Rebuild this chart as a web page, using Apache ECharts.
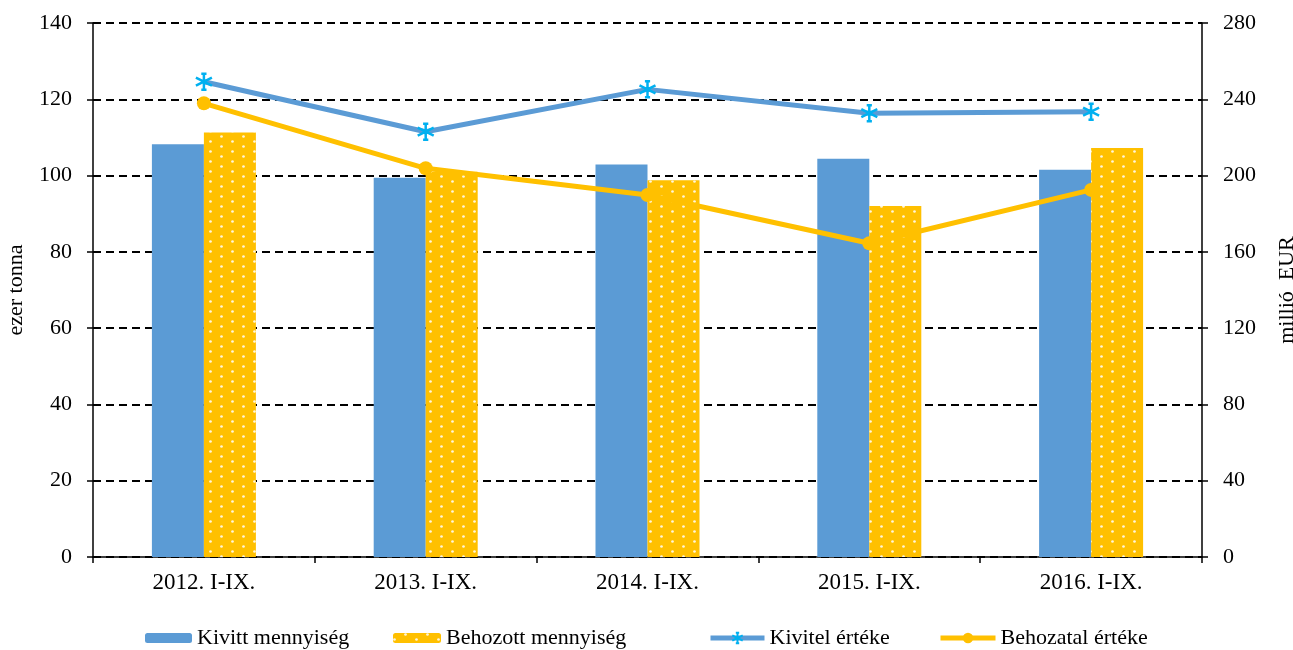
<!DOCTYPE html>
<html>
<head>
<meta charset="utf-8">
<script src="https://cdn.jsdelivr.net/npm/echarts@6/dist/echarts.min.js"></script>
<style>
html,body{margin:0;padding:0;background:#fff;}
#chart{width:1293px;height:650px;}
</style>
</head>
<body>
<div id="chart"></div>
<script>
var categories = ['2012. I-IX.', '2013. I-IX.', '2014. I-IX.', '2015. I-IX.', '2016. I-IX.'];
var kivittMennyiseg = [108.2, 99.4, 102.9, 104.4, 101.5];
var behozottMennyiseg = [111.3, 101.0, 98.8, 92.0, 107.2];
var kivitelErteke = [249.2, 223.0, 245.2, 232.7, 233.5];
var behozatalErteke = [237.9, 203.8, 189.8, 164.5, 192.5];
var leftTicks = [0, 20, 40, 60, 80, 100, 120, 140];
var rightTicks = [0, 40, 80, 120, 160, 200, 240, 280];
var seriesNames = ['Kivitt mennyiség', 'Behozott mennyiség', 'Kivitel értéke', 'Behozatal értéke'];

var FONT = '"Liberation Serif", "Times New Roman", serif';
var chart = echarts.init(document.getElementById('chart'), null, {renderer: 'canvas'});
var starPath = 'path://M5,0L5,10M3.6,0L6.4,0M3.6,10L6.4,10M0.7,2.5L9.3,7.5M0.7,7.5L9.3,2.5';

var legendLefts = [145, 393, 708, 938];
var legendWidths = [47, 48, 54, 55];
var legends = seriesNames.map(function (n, i) {
  var item = {name: n};
  if (i >= 2) { item.lineStyle = {width: 5}; }
  return {
    top: 627,
    left: legendLefts[i],
    padding: 0,
    itemWidth: legendWidths[i],
    itemHeight: i >= 2 ? 13 : 10,
    textStyle: {fontFamily: FONT, fontSize: 22, color: '#000'},
    data: [item]
  };
});

var option = {
  animation: false,
  backgroundColor: '#ffffff',
  textStyle: {fontFamily: FONT, color: '#000'},
  grid: {left: 93, right: 91, top: 23, bottom: 93, containLabel: false, outerBoundsMode: 'none'},
  legend: legends,
  xAxis: {
    type: 'category',
    data: categories,
    axisLine: {lineStyle: {color: '#000', width: 1.5}},
    axisTick: {show: true, length: 6, lineStyle: {color: '#000', width: 1.5}},
    axisLabel: {fontFamily: FONT, fontSize: 23, color: '#000', margin: 14},
    splitLine: {show: false}
  },
  yAxis: [
    {
      type: 'value', min: 0, max: leftTicks[leftTicks.length - 1], interval: 20,
      name: 'ezer tonna', nameLocation: 'middle', nameGap: 66, nameRotate: 90,
      nameTextStyle: {fontFamily: FONT, fontSize: 22, color: '#000'},
      axisLine: {show: true, lineStyle: {color: '#000', width: 1.5}},
      axisTick: {show: true, length: 6, lineStyle: {color: '#000', width: 1.5}},
      axisLabel: {fontFamily: FONT, fontSize: 22, color: '#000', margin: 21},
      splitLine: {show: true, lineStyle: {color: '#000', width: 2, type: [8, 5]}}
    },
    {
      type: 'value', min: 0, max: rightTicks[rightTicks.length - 1], interval: 40,
      name: 'millió  EUR', nameLocation: 'middle', nameGap: 74, nameRotate: 90,
      nameTextStyle: {fontFamily: FONT, fontSize: 22, color: '#000'},
      axisLine: {show: true, lineStyle: {color: '#000', width: 1.5}},
      axisTick: {show: true, length: 6, lineStyle: {color: '#000', width: 1.5}},
      axisLabel: {fontFamily: FONT, fontSize: 22, color: '#000', margin: 21},
      splitLine: {show: false}
    }
  ],
  series: [
    {
      name: seriesNames[0], type: 'bar', yAxisIndex: 0,
      data: kivittMennyiseg, barWidth: 52, barGap: '0%',
      itemStyle: {color: '#5B9BD5'},
      emphasis: {disabled: true}
    },
    {
      name: seriesNames[1], type: 'bar', yAxisIndex: 0,
      data: behozottMennyiseg, barWidth: 52, barGap: '0%',
      itemStyle: {
        color: '#FFC000',
        decal: {
          symbol: 'circle',
          symbolSize: 0.9,
          color: 'rgba(255,255,255,0.85)',
          dashArrayX: [[3, 19], [0, 11, 3, 8]],
          dashArrayY: [3, 2],
          rotation: 0
        }
      },
      emphasis: {disabled: true}
    },
    {
      name: seriesNames[2], type: 'line', yAxisIndex: 1,
      data: kivitelErteke,
      symbol: starPath, symbolSize: 16,
      lineStyle: {color: '#5B9BD5', width: 5},
      itemStyle: {color: 'rgba(0,0,0,0)', borderColor: '#00B0F0', borderWidth: 2.5},
      emphasis: {disabled: true},
      z: 5
    },
    {
      name: seriesNames[3], type: 'line', yAxisIndex: 1,
      data: behozatalErteke,
      symbol: 'circle', symbolSize: 14,
      lineStyle: {color: '#FFC000', width: 5},
      itemStyle: {color: '#FFC000', borderWidth: 0},
      emphasis: {disabled: true},
      z: 6
    }
  ]
};
chart.setOption(option);
</script>
</body>
</html>
